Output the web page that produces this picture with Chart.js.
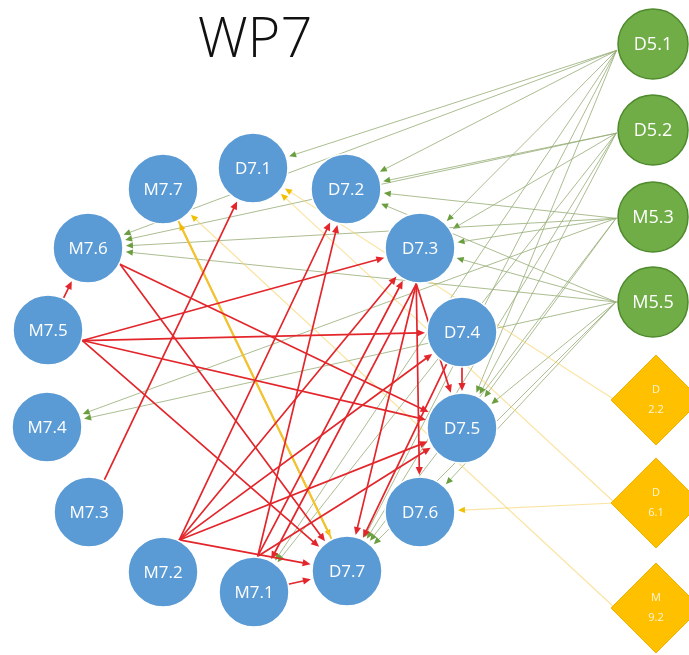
<!DOCTYPE html>
<html>
<head>
<meta charset="utf-8">
<script src="https://cdn.jsdelivr.net/npm/chart.js@4"></script>
<style>
html,body{margin:0;padding:0;background:#fff;}
#wrap{width:689px;height:655px;}
</style>
</head>
<body>
<div id="wrap"><canvas id="c" width="689" height="655"></canvas></div>
<script>
// ---- data ----
const titleText = "WP7";
const wp7Names = ["M7.7","D7.1","D7.2","M7.6","D7.3","M7.5","D7.4","M7.4","D7.5","M7.3","D7.6","M7.2","M7.1","D7.7"];
const wp7X     = [163, 253, 346,  88, 420,  48, 462,  47, 462,  89, 420, 163, 254, 347];
const wp7Y     = [189, 168, 189, 248, 248, 330, 332, 427, 428, 512, 512, 572, 592, 571];
const wp5Names = ["D5.1","D5.2","M5.3","M5.5"];
const wp5X     = [653, 653, 653, 653];
const wp5Y     = [44, 130, 217, 302];
const extNames = ["D\n2.2","D\n6.1","M\n9.2"];
const extKeys  = ["D2.2","D6.1","M9.2"];
const extX     = [656, 656, 656];
const extY     = [400, 503, 608];

const redFrom = ["M7.5","M7.5","M7.5","M7.5","M7.5","M7.6","M7.6","M7.3","M7.2","M7.2","M7.2","M7.2","M7.2","M7.1","M7.1","M7.1","M7.1","D7.3","D7.3","D7.3","D7.3","D7.4","D7.4"];
const redTo   = ["M7.6","D7.3","D7.4","D7.5","D7.7","D7.5","D7.7","D7.1","D7.2","D7.3","D7.5","D7.4","D7.7","D7.2","D7.3","D7.5","D7.7","D7.5","D7.6","D7.7","M7.1","D7.5","D7.7"];

const greenFrom = ["D5.1","D5.1","D5.1","D5.1","D5.1","D5.1","D5.1","D5.2","D5.2","D5.2","D5.2","D5.2","D5.2","M5.3","M5.3","M5.3","M5.3","M5.3","M5.3","M5.5","M5.5","M5.5","M5.5","M5.5","M5.5","M5.5"];
const greenTo   = ["D7.1","D7.2","M7.6","D7.3","D7.5","D7.7","M7.1","D7.2","M7.6","D7.3","D7.5","D7.7","M7.1","D7.2","D7.3","M7.6","D7.5","D7.7","M7.4","D7.2","D7.3","M7.6","D7.5","D7.6","M7.4","D7.7"];

const yellowFrom = ["M7.7","D7.7","D2.2","D6.1","D6.1","M9.2"];
const yellowTo   = ["D7.7","M7.7","D7.1","D7.1","D7.6","M7.7"];
const yellowBold = [true, true, false, false, false, false];

// ---- lookup of node positions (data space) ----
const nodes = {};
wp7Names.forEach((n,i)=>nodes[n]={x:wp7X[i],y:wp7Y[i],r:35});
wp5Names.forEach((n,i)=>nodes[n]={x:wp5X[i],y:wp5Y[i],r:36});
extKeys.forEach((n,i)=>nodes[n]={x:extX[i],y:extY[i],r:40});

// outgoing connector ports (angle in degrees, screen space) — styling only
const ports = {"M7.5":17,"M7.6":27,"M7.2":-63,"M7.1":-84,"D7.3":96,"D5.1":170,"D5.2":175,"M5.3":178,"M5.5":180,"D2.2":180,"D6.1":180,"M9.2":180};

function arrow(ctx, x1,y1,x2,y2, color, lw, head){
  const dx=x2-x1, dy=y2-y1, L=Math.hypot(dx,dy), ux=dx/L, uy=dy/L;
  ctx.strokeStyle=color.line; ctx.lineWidth=lw;
  ctx.beginPath(); ctx.moveTo(x1,y1); ctx.lineTo(x2-ux*head*0.6,y2-uy*head*0.6); ctx.stroke();
  ctx.fillStyle=color.head;
  ctx.beginPath();
  ctx.moveTo(x2,y2);
  ctx.lineTo(x2-ux*head - uy*head*0.45, y2-uy*head + ux*head*0.45);
  ctx.lineTo(x2-ux*head + uy*head*0.45, y2-uy*head - ux*head*0.45);
  ctx.closePath(); ctx.fill();
}

const edgePlugin = {
  id:'edges',
  beforeDatasetsDraw(chart){
    const ctx=chart.ctx, xs=chart.scales.x, ys=chart.scales.y;
    const P = n => ({x:xs.getPixelForValue(nodes[n].x), y:ys.getPixelForValue(nodes[n].y), r:nodes[n].r});
    function seg(a,b,gapB){
      const A=P(a), B=P(b);
      let dx=B.x-A.x, dy=B.y-A.y, L=Math.hypot(dx,dy), ux=dx/L, uy=dy/L;
      let sx=A.x+ux*(A.r-1), sy=A.y+uy*(A.r-1);
      if (ports[a]!==undefined){
        const ang=Math.atan2(dy,dx)*180/Math.PI;
        let d=Math.abs(ang-ports[a]); if(d>180) d=360-d;
        if (d<70){
          const pr=ports[a]*Math.PI/180;
          sx=A.x+Math.cos(pr)*(A.r+1); sy=A.y+Math.sin(pr)*(A.r+1);
        }
      }
      dx=B.x-sx; dy=B.y-sy; L=Math.hypot(dx,dy); ux=dx/L; uy=dy/L;
      return [sx, sy, B.x-ux*(B.r+gapB), B.y-uy*(B.r+gapB)];
    }
    ctx.save();
    ctx.lineCap='round';
    greenFrom.forEach((f,i)=>{
      const s=seg(f,greenTo[i],3);
      arrow(ctx,s[0],s[1],s[2],s[3],{line:'rgba(150,172,118,0.8)',head:'#6a9e3f'},1,7);
    });
    yellowFrom.forEach((f,i)=>{
      const bold=yellowBold[i];
      const s=seg(f,yellowTo[i],3);
      arrow(ctx,s[0],s[1],s[2],s[3],bold?{line:'#f2c230',head:'#f2b800'}:{line:'rgba(245,205,90,0.55)',head:'#f2c000'},bold?2:1.2,7);
    });
    redFrom.forEach((f,i)=>{
      const s=seg(f,redTo[i],2);
      arrow(ctx,s[0],s[1],s[2],s[3],{line:'#e3262b',head:'#e3262b'},1.7,8);
    });
    ctx.restore();
  },
  afterDatasetsDraw(chart){
    const ctx=chart.ctx, xs=chart.scales.x, ys=chart.scales.y;
    ctx.save();
    ctx.fillStyle='#ffffff';
    ctx.textAlign='center'; ctx.textBaseline='middle';
    ctx.font='17px "Open Sans", sans-serif';
    wp7Names.forEach((n,i)=>ctx.fillText(n, xs.getPixelForValue(wp7X[i]), ys.getPixelForValue(wp7Y[i])+1));
    ctx.font='18px "Open Sans", sans-serif';
    wp5Names.forEach((n,i)=>ctx.fillText(n, xs.getPixelForValue(wp5X[i]), ys.getPixelForValue(wp5Y[i])+1));
    ctx.font='11px "Open Sans", sans-serif';
    ctx.fillStyle='rgba(255,255,255,0.85)';
    extNames.forEach((n,i)=>{
      const parts=n.split("\n");
      const px=xs.getPixelForValue(extX[i]), py=ys.getPixelForValue(extY[i]);
      ctx.fillText(parts[0], px, py-10);
      ctx.fillText(parts[1], px, py+10);
    });
    ctx.fillStyle='#111';
    ctx.font='300 56px "Open Sans", sans-serif';
    ctx.textBaseline='alphabetic';
    ctx.fillText(titleText, xs.getPixelForValue(255), ys.getPixelForValue(57));
    ctx.restore();
  }
};

new Chart(document.getElementById('c'), {
  type:'scatter',
  data:{
    datasets:[
      {label:'WP7', data:wp7Names.map((n,i)=>({x:wp7X[i],y:wp7Y[i]})), pointStyle:'circle', pointRadius:35, pointHoverRadius:35,
       backgroundColor:'#5b9bd5', borderColor:'#ffffff', borderWidth:1.5},
      {label:'WP5', data:wp5Names.map((n,i)=>({x:wp5X[i],y:wp5Y[i]})), pointStyle:'circle', pointRadius:35, pointHoverRadius:35,
       backgroundColor:'#70ad47', borderColor:'#4f8a2c', borderWidth:1.5},
      {label:'Other', data:extKeys.map((n,i)=>({x:extX[i],y:extY[i]})), pointStyle:'rectRot', pointRadius:45, pointHoverRadius:45,
       backgroundColor:'#ffc000', borderColor:'#f0b400', borderWidth:1}
    ]
  },
  options:{
    responsive:false, animation:false, devicePixelRatio:1,
    layout:{padding:0, autoPadding:false},
    plugins:{legend:{display:false}, tooltip:{enabled:false}, title:{display:false}},
    scales:{
      x:{type:'linear', min:0, max:689, display:false},
      y:{type:'linear', min:0, max:655, reverse:true, display:false}
    }
  },
  plugins:[edgePlugin]
});
</script>
</body>
</html>
